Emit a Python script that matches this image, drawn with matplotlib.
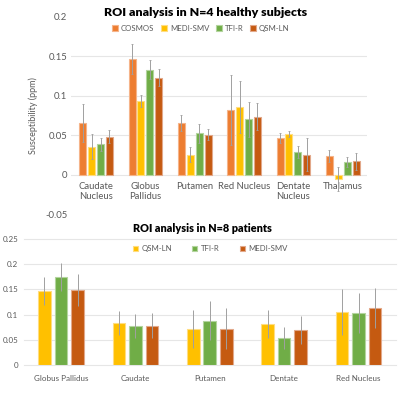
import matplotlib
matplotlib.use('Agg')
import matplotlib.pyplot as plt
import numpy as np

plt.rcParams['font.family'] = ['Lato', 'DejaVu Sans']

# ---- top chart data ----
top_categories = ['Caudate\nNucleus', 'Globus\nPallidus', 'Putamen', 'Red Nucleus', 'Dentate\nNucleus', 'Thalamus']
top_series = ['COSMOS', 'MEDI-SMV', 'TFI-R', 'QSM-LN']
cosmos = [0.0655, 0.1467, 0.0655, 0.082, 0.0465, 0.0237]
cosmos_err = [0.024, 0.019, 0.0105, 0.044, 0.006, 0.0076]
medi_smv = [0.0355, 0.0934, 0.0254, 0.0858, 0.0516, -0.0055]
medi_smv_err = [0.016, 0.0075, 0.010, 0.033, 0.004, 0.015]
tfi_r = [0.0385, 0.133, 0.0524, 0.070, 0.0287, 0.016]
tfi_r_err = [0.008, 0.012, 0.012, 0.022, 0.008, 0.0064]
qsm_ln = [0.048, 0.123, 0.0507, 0.0735, 0.0254, 0.0169]
qsm_ln_err = [0.008, 0.011, 0.007, 0.0175, 0.021, 0.0106]
top_ticks = [-0.05, 0, 0.05, 0.1, 0.15, 0.2]
top_tick_labels = ['-0.05', '0', '0.05', '0.1', '0.15', '0.2']

# ---- bottom chart data ----
bottom_categories = ['Globus Pallidus', 'Caudate', 'Putamen', 'Dentate', 'Red Nucleus']
bottom_series = ['QSM-LN', 'TFI-R', 'MEDI-SMV']
p_qsm_ln = [0.147, 0.0834, 0.0715, 0.081, 0.105]
p_qsm_ln_err = [0.0285, 0.024, 0.038, 0.028, 0.045]
p_tfi_r = [0.1748, 0.0775, 0.088, 0.0536, 0.1027]
p_tfi_r_err = [0.028, 0.023, 0.039, 0.022, 0.040]
p_medi_smv = [0.149, 0.078, 0.072, 0.0695, 0.1132]
p_medi_smv_err = [0.032, 0.025, 0.041, 0.0285, 0.040]
bottom_ticks = [0, 0.05, 0.1, 0.15, 0.2, 0.25]
bottom_tick_labels = ['0', '0.05', '0.1', '0.15', '0.2', '0.25']

C_ORANGE = '#ED7D31'
C_YELLOW = '#FFC000'
C_GREEN = '#70AD47'
C_DARK = '#C55A11'
EDGE = {C_ORANGE: '#F5B48A', C_YELLOW: '#FFDD80', C_GREEN: '#B3D49E', C_DARK: '#E2A88A'}
TXT = '#595959'
GRID = '#E6E6E6'
ERR = '#A0A0A0'

fig = plt.figure(figsize=(4.0, 3.96), dpi=100)

# ================= TOP =================
W, H = 400, 396
ax1 = fig.add_axes([71.4 / W, 1 - 214 / H, 296 / W, (214 - 17) / H])
x = np.arange(len(top_categories))
top_vals = [cosmos, medi_smv, tfi_r, qsm_ln]
top_errs = [cosmos_err, medi_smv_err, tfi_r_err, qsm_ln_err]
top_cols = [C_ORANGE, C_YELLOW, C_GREEN, C_DARK]
slot, bw = 0.18, 0.142
for i, (name, v, e, c) in enumerate(zip(top_series, top_vals, top_errs, top_cols)):
    ax1.bar(x + (i - 1.5) * slot, v, width=bw, color=c, edgecolor=EDGE[c], linewidth=0.8,
            label=name, zorder=2)
    ax1.errorbar(x + (i - 1.5) * slot, v, yerr=e, fmt='none', ecolor=ERR, elinewidth=0.7,
                 capsize=0.8, capthick=0.6, zorder=3)
ax1.set_xlim(-0.5, len(top_categories) - 0.5)
ax1.set_ylim(-0.05, 0.2)
ax1.set_yticks(top_ticks)
ax1.set_yticklabels(top_tick_labels)
ax1.set_xticks(x)
ax1.set_xticklabels(top_categories, linespacing=1.0)
for s in ['top', 'right', 'left']:
    ax1.spines[s].set_visible(False)
ax1.spines['bottom'].set_position(('data', 0))
ax1.spines['bottom'].set_visible(False)
ax1.tick_params(axis='both', length=0, colors=TXT, labelsize=6.8)
ax1.tick_params(axis='x', pad=5)
ax1.tick_params(axis='y', pad=3)
ax1.yaxis.grid(True, color=GRID, linewidth=0.8, zorder=0)
ax1.set_axisbelow(True)
gl = ax1.get_ygridlines()
gl[0].set_visible(False)
gl[-1].set_visible(False)
ax1.set_ylabel('Susceptibility (ppm)', fontsize=6.5, color=TXT, labelpad=5)
fig.text(206 / W, 1 - 12.7 / H, 'ROI analysis in N=4 healthy subjects', ha='center', va='center',
         fontsize=8.9, fontweight='heavy', color='#000000')
ax1.legend(loc='center', bbox_to_anchor=(201 / W, 1 - 28.3 / H), bbox_transform=fig.transFigure,
           ncol=4, frameon=False, fontsize=5.6, handlelength=0.7, handleheight=0.7,
           handletextpad=0.4, columnspacing=0.9, labelcolor=TXT)

# ================= BOTTOM =================
ax2 = fig.add_axes([23.8 / W, 1 - 365 / H, (395.7 - 23.8) / W, (365 - 239) / H])
xb = np.arange(len(bottom_categories))
b_vals = [p_qsm_ln, p_tfi_r, p_medi_smv]
b_errs = [p_qsm_ln_err, p_tfi_r_err, p_medi_smv_err]
b_cols = [C_YELLOW, C_GREEN, C_DARK]
slot2, bw2 = 0.222, 0.17
for i, (name, v, e, c) in enumerate(zip(bottom_series, b_vals, b_errs, b_cols)):
    ax2.bar(xb + (i - 1) * slot2, v, width=bw2, color=c, edgecolor=EDGE[c], linewidth=0.8,
            label=name, zorder=2)
    ax2.errorbar(xb + (i - 1) * slot2, v, yerr=e, fmt='none', ecolor=ERR, elinewidth=0.7,
                 capsize=0, zorder=3)
ax2.set_xlim(-0.5, len(bottom_categories) - 0.5)
ax2.set_ylim(0, 0.25)
ax2.set_yticks(bottom_ticks)
ax2.set_yticklabels(bottom_tick_labels)
ax2.set_xticks(xb)
ax2.set_xticklabels(bottom_categories)
for s in ['top', 'right', 'left', 'bottom']:
    ax2.spines[s].set_visible(False)
ax2.tick_params(axis='both', length=0, colors=TXT, labelsize=5.8)
ax2.tick_params(axis='x', pad=7)
ax2.tick_params(axis='y', pad=4)
ax2.yaxis.grid(True, color=GRID, linewidth=0.8, zorder=0)
ax2.set_axisbelow(True)
for g in ax2.get_ygridlines():
    g.set_clip_on(False)
fig.text(202 / W, 1 - 229 / H, 'ROI analysis in N=8 patients', ha='center', va='center',
         fontsize=7.8, fontweight='heavy', color='#000000')
ax2.legend(loc='center', bbox_to_anchor=(210 / W, 1 - 248.7 / H), bbox_transform=fig.transFigure,
           ncol=3, frameon=False, fontsize=5.6, handlelength=0.7, handleheight=0.7,
           handletextpad=0.4, columnspacing=2.6, labelcolor=TXT)

fig.savefig('out.png', dpi=100, facecolor='white')
